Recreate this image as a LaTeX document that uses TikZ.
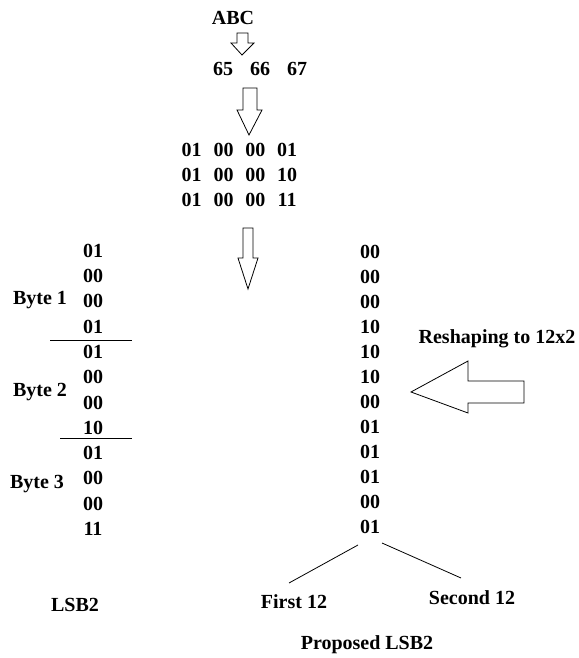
\documentclass[tikz,border=0pt]{standalone}
\usepackage{fontspec}
\setmainfont{Liberation Serif}
\usetikzlibrary{positioning}

\begin{document}
\begin{tikzpicture}[
  x=1pt, y=-1pt,
  txt/.style={font=\fontsize{20}{24}\selectfont\bfseries, inner sep=0pt},
  blk/.style={draw=black, fill=white, line width=0.8pt, line join=miter},
  sep/.style={draw=black, line width=0.8pt}
]
\useasboundingbox (0,0) rectangle (578,658);

% characters and their codes
\node[txt] (abc) at (233,18) {ABC};
\node[txt] (c65) at (223,69) {65};
\node[txt] (c66) at (260,69) {66};
\node[txt] (c67) at (297,69) {67};

\draw[blk] (237,33) -- (248,33) -- (248,43) -- (254,43) -- (242,55) -- (231,43) -- (237,43) -- cycle;
\draw[blk] (243,88) -- (257,88) -- (257,110) -- (262,110) -- (249,135) -- (237,110) -- (243,110) -- cycle;

% binary rows
\foreach \row/\yy in {{01,00,00,01}/150, {01,00,00,10}/175, {01,00,00,11}/200}{
  \foreach \v [count=\c] in \row
    \node[txt] (m-\yy-\c) at ({191.7+31.8*(\c-1)},\yy) {\v};
}

\draw[blk] (243,228) -- (253,228) -- (253,258) -- (258,258) -- (248,289) -- (238,258) -- (243,258) -- cycle;

% LSB2 column
\foreach \v [count=\i] in {01,00,00,01,01,00,00,10,01,00,00,11}
  \node[txt] (l\i) at (93,{250.7+25.3*(\i-1)}) {\v};

\node[txt] (b1) at (40,300) {Byte 1};
\node[txt] (b2) at (40,392) {Byte 2};
\node[txt] (b3) at (37,484) {Byte 3};
\draw[sep] (50,340) -- (132,340);
\draw[sep] (60,438) -- (132,438);
\node[txt] (lsb) at (75,605) {LSB2};

% proposed column
\foreach \v [count=\i] in {00,00,00,10,10,10,00,01,01,01,00,01}
  \node[txt] (r\i) at (370,{251.7+25*(\i-1)}) {\v};

\node[txt] (resh) at (497,339) {Reshaping to 12x2};
\draw[blk] (411,392) -- (468,361) -- (468,381) -- (524,381) -- (524,403) -- (468,403) -- (468,413) -- cycle;

\node[txt] (first) at (294,602) {First 12};
\node[txt] (second) at (472,598) {Second 12};
\node[txt] (prop) at (367,645) {Proposed LSB2};

\coordinate (fl) at (358,545);
\coordinate (sr) at (382,543);
\draw[sep] (fl) -- (289,583);
\draw[sep] (sr) -- (461,578);

\end{tikzpicture}
\end{document}
